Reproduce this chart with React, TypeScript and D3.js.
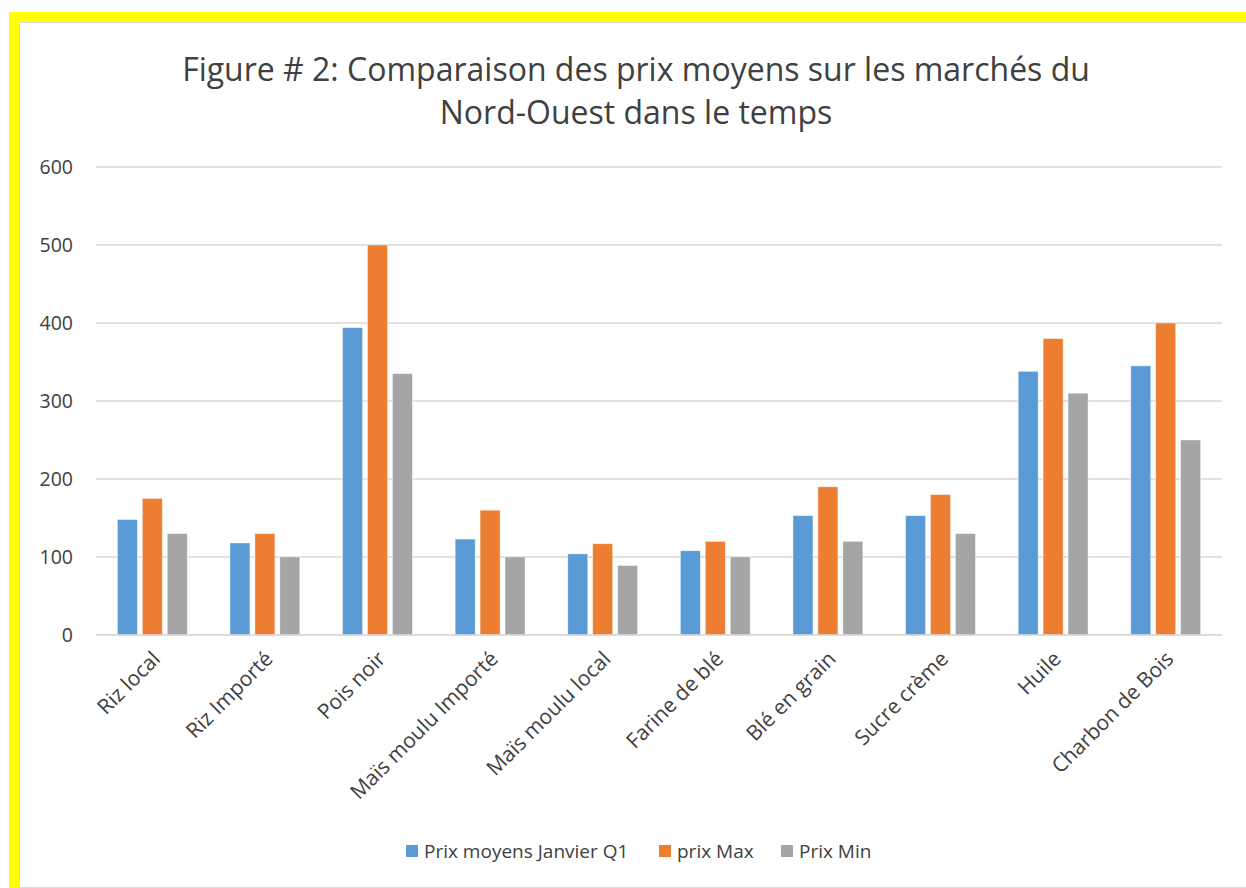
import * as React from 'react';
import {useEffect, useRef} from 'react';
import * as d3 from 'd3';

const categories = [
    'Riz local', 'Riz Importé', 'Pois noir', 'Maïs moulu Importé', 'Maïs moulu local',
    'Farine de blé', 'Blé en grain', 'Sucre crème', 'Huile', 'Charbon de Bois',
];
const seriesNames = ['Prix moyens Janvier Q1', 'prix Max', 'Prix Min'];
const prixMoyens = [148, 118, 394, 123, 104, 108, 153, 153, 338, 345];
const prixMax = [175, 130, 500, 160, 117, 120, 190, 180, 380, 400];
const prixMin = [130, 100, 335, 100, 89, 100, 120, 130, 310, 250];
const yTicks = [0, 100, 200, 300, 400, 500, 600];
const colors = ['#5B9BD5', '#ED7D31', '#A5A5A5'];

const W = 1246;
const H = 888;
const FONT = '"Open Sans", "Noto Sans", sans-serif';

function App() {
    const ref = useRef<SVGSVGElement>(null);

    useEffect(() => {
        const svg = d3.select(ref.current);
        svg.selectAll('*').remove();

        // frame: yellow band on top and left, thin grey edge inside
        svg.append('rect').attr('x', 0).attr('y', 0).attr('width', W).attr('height', H).attr('fill', '#fff');
        svg.append('rect').attr('x', 9).attr('y', 12).attr('width', W - 9).attr('height', 10).attr('fill', '#FFFF00');
        svg.append('rect').attr('x', 9).attr('y', 12).attr('width', 10).attr('height', H - 12).attr('fill', '#FFFF00');
        svg.append('line').attr('x1', 19).attr('x2', W).attr('y1', 22.5).attr('y2', 22.5).attr('stroke', '#D9D9D9');
        svg.append('line').attr('x1', 19.5).attr('x2', 19.5).attr('y1', 22).attr('y2', H).attr('stroke', '#D9D9D9');
        svg.append('line').attr('x1', 19).attr('x2', W).attr('y1', 887.5).attr('y2', 887.5).attr('stroke', '#D9D9D9');

        const title = svg.append('text')
            .attr('text-anchor', 'middle')
            .attr('font-family', FONT)
            .attr('font-size', 32)
            .attr('fill', '#404040');
        title.append('tspan').attr('x', 636).attr('y', 81).text('Figure # 2: Comparaison des prix moyens sur les marchés du');
        title.append('tspan').attr('x', 636).attr('y', 124).text('Nord-Ouest dans le temps');

        const x0 = d3.scaleBand()
            .domain(categories)
            .range([96, 1222])
            .paddingInner(0.38)
            .paddingOuter(0.19);
        const x1 = d3.scaleBand()
            .domain(seriesNames)
            .range([0, x0.bandwidth()])
            .paddingInner(0.2);
        const y = d3.scaleLinear().domain([0, 600]).range([635, 167]);

        // gridlines
        svg.append('g')
            .selectAll('line')
            .data(yTicks)
            .enter()
            .append('line')
            .attr('x1', 96)
            .attr('x2', 1222)
            .attr('y1', d => y(d))
            .attr('y2', d => y(d))
            .attr('stroke', '#D9D9D9')
            .attr('stroke-width', 1.5);

        svg.append('g')
            .selectAll('text')
            .data(yTicks)
            .enter()
            .append('text')
            .attr('x', 73)
            .attr('y', d => y(d))
            .attr('dy', '0.35em')
            .attr('text-anchor', 'end')
            .attr('font-family', FONT)
            .attr('font-size', 19.5)
            .attr('fill', '#404040')
            .text(d => d);

        const series = [prixMoyens, prixMax, prixMin];
        series.forEach((vals, s) => {
            svg.append('g')
                .selectAll('rect')
                .data(vals)
                .enter()
                .append('rect')
                .attr('x', (d, i) => (x0(categories[i]) as number) + (x1(seriesNames[s]) as number))
                .attr('y', d => y(d))
                .attr('width', x1.bandwidth())
                .attr('height', d => y(0) - y(d))
                .attr('fill', colors[s])
                .attr('stroke', '#ffffff')
                .attr('stroke-opacity', 0.5)
                .attr('stroke-width', 0.75);
        });

        // baseline
        svg.append('line')
            .attr('x1', 96).attr('x2', 1222)
            .attr('y1', y(0)).attr('y2', y(0))
            .attr('stroke', '#D9D9D9').attr('stroke-width', 1.5);

        svg.append('g')
            .selectAll('text')
            .data(categories)
            .enter()
            .append('text')
            .attr('transform', d => `translate(${(x0(d) as number) + x0.bandwidth() / 2 + 4}, 655) rotate(-45)`)
            .attr('dy', '0.35em')
            .attr('text-anchor', 'end')
            .attr('font-family', FONT)
            .attr('font-size', 21)
            .attr('fill', '#404040')
            .text(d => d);

        // legend
        const legendX = [406, 659, 781];
        const legend = svg.append('g')
            .selectAll('g')
            .data(seriesNames)
            .enter()
            .append('g')
            .attr('transform', (d, i) => `translate(${legendX[i]}, 851)`);
        legend.append('rect')
            .attr('x', 0).attr('y', -6)
            .attr('width', 12).attr('height', 12)
            .attr('fill', (d, i) => colors[i]);
        legend.append('text')
            .attr('x', 18)
            .attr('dy', '0.35em')
            .attr('font-family', FONT)
            .attr('font-size', 19)
            .attr('fill', '#404040')
            .text(d => d);
    }, []);

    return (
        <svg ref={ref} width={W} height={H}
             style={{position: 'absolute', left: 0, top: 0, display: 'block'}} />
    );
}

export default App;
